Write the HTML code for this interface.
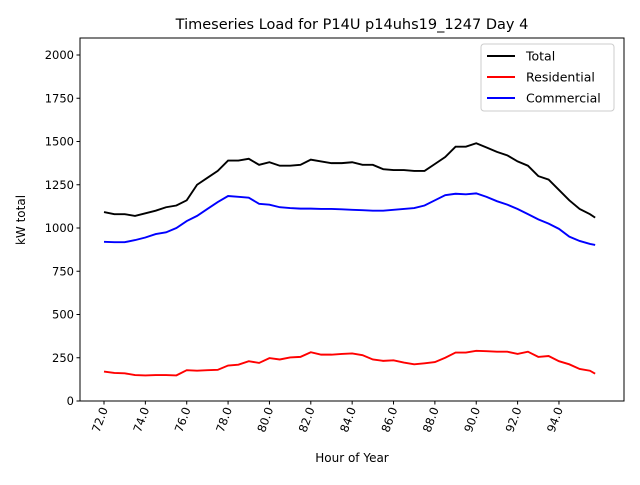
<!DOCTYPE html>
<html><head><meta charset="utf-8"><style>
body{margin:0;background:#fff;font-family:"Liberation Sans","DejaVu Sans",sans-serif;}
svg text{font-family:"DejaVu Sans","Liberation Sans",sans-serif;}
</style></head><body>
<svg id="chart" width="640" height="480">
<rect x="0" y="0" width="640" height="480" fill="#fff"/>
<g id="plot"></g>
</svg>
<script>
const hours=[72,72.5,73,73.5,74,74.5,75,75.5,76,76.5,77,77.5,78,78.5,79,79.5,80,80.5,81,81.5,82,82.5,83,83.5,84,84.5,85,85.5,86,86.5,87,87.5,88,88.5,89,89.5,90,90.5,91,91.5,92,92.5,93,93.5,94,94.5,95,95.5,95.75];
const total=[1092,1080,1080,1070,1085,1100,1120,1130,1160,1250,1290,1330,1390,1390,1400,1365,1380,1360,1360,1365,1395,1385,1375,1375,1380,1365,1365,1340,1335,1335,1330,1330,1370,1410,1470,1470,1490,1465,1440,1420,1385,1360,1300,1280,1220,1160,1110,1080,1060];
const commercial=[920,918,918,930,945,965,975,1000,1040,1070,1110,1150,1185,1180,1175,1140,1135,1120,1115,1112,1112,1110,1110,1108,1105,1103,1100,1100,1105,1110,1115,1130,1160,1190,1198,1195,1200,1180,1155,1135,1110,1080,1050,1025,995,950,925,908,902];
const residential=[170,162,160,150,148,150,150,148,178,175,178,180,205,210,230,220,248,240,252,255,282,268,268,272,275,265,240,232,235,222,212,218,225,250,280,280,290,288,285,285,272,285,255,260,230,212,185,175,158];
const yTicks=[0,250,500,750,1000,1250,1500,1750,2000];
const xTicks=[72,74,76,78,80,82,84,86,88,90,92,94];
const L=80,R=624,T=38,B=401;
const xs=h=>104+(h-72)*20.68;
const ys=v=>401-v*43.25/250;
const NS="http://www.w3.org/2000/svg";
const g=document.getElementById('plot');
function mk(t,a){const e=document.createElementNS(NS,t);for(const k in a)e.setAttribute(k,a[k]);g.appendChild(e);return e;}
function series(arr,color,name){
  const p=mk('polyline',{points:arr.map((v,i)=>xs(hours[i])+','+ys(v)).join(' '),fill:'none',stroke:color,'stroke-width':1.9});
  
  
}
series(total,'#000','total-line');
series(residential,'#f00','residential-line');
series(commercial,'#00f','commercial-line');
const fr=mk('rect',{x:L,y:T,width:R-L,height:B-T,fill:'none',stroke:'#000','stroke-width':1});


yTicks.forEach(v=>{
  const y=ys(v);
  mk('line',{x1:L-3.5,x2:L,y1:y,y2:y,stroke:'#000'});
  const t=mk('text',{x:L-6,y:y+4,'text-anchor':'end','font-size':11.5});
  t.textContent=v;
  
  
});
xTicks.forEach(h=>{
  const x=xs(h);
  mk('line',{x1:x,x2:x,y1:B,y2:B+3.5,stroke:'#000'});
  const t=mk('text',{x:x+4,y:B+8,'text-anchor':'end','font-size':11.5,transform:`rotate(-70 ${x+4} ${B+8})`});
  t.textContent=h.toFixed(1);
  
  
});
let t=mk('text',{x:352,y:29,'text-anchor':'middle','font-size':14.5});
t.textContent='Timeseries Load for P14U p14uhs19_1247  Day 4';


t=mk('text',{x:352,y:462,'text-anchor':'middle','font-size':12});
t.textContent='Hour of Year';


t=mk('text',{x:25,y:220,'text-anchor':'middle','font-size':12,transform:'rotate(-90 25 220)'});
t.textContent='kW total';


const lg=mk('rect',{x:481,y:44,width:133,height:67,fill:'#fff',stroke:'#ccc',rx:3});


[['Total','#000'],['Residential','#f00'],['Commercial','#00f']].forEach((d,i)=>{
  const y=56+i*21;
  mk('line',{x1:487,x2:515,y1:y,y2:y,stroke:d[1],'stroke-width':1.9});
  const tt=mk('text',{x:526,y:y+4.5,'font-size':12.5});
  tt.textContent=d[0];
  
  
});
</script>
</body></html>
